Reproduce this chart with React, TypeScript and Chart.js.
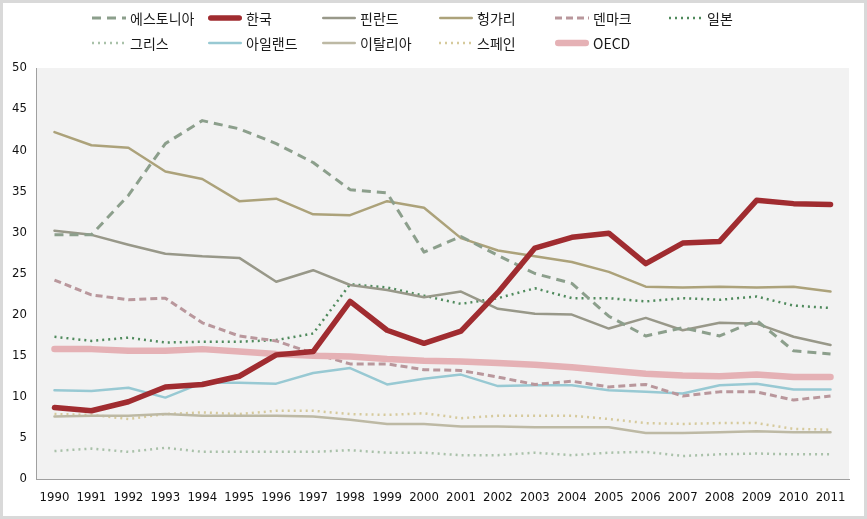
import React, { useEffect, useRef } from "react";
import { Chart, registerables } from "chart.js";

Chart.register(...registerables);

const years = ["1990","1991","1992","1993","1994","1995","1996","1997","1998","1999","2000","2001","2002","2003","2004","2005","2006","2007","2008","2009","2010","2011"];

const estonia = [29.7, 29.7, 34.5, 40.8, 43.6, 42.6, 40.8, 38.5, 35.2, 34.8, 27.6, 29.5, 27.2, 25.0, 23.8, 19.8, 17.4, 18.4, 17.4, 19.3, 15.6, 15.2];
const korea = [8.7, 8.3, 9.4, 11.2, 11.5, 12.5, 15.1, 15.5, 21.6, 18.1, 16.5, 18.0, 22.7, 28.1, 29.4, 29.9, 26.2, 28.7, 28.9, 33.9, 33.5, 33.4];
const finland = [30.2, 29.7, 28.5, 27.4, 27.1, 26.9, 24.0, 25.4, 23.6, 23.0, 22.1, 22.8, 20.7, 20.1, 20.0, 18.3, 19.6, 18.1, 19.0, 18.9, 17.3, 16.3];
const hungary = [42.2, 40.6, 40.3, 37.4, 36.5, 33.8, 34.1, 32.2, 32.1, 33.8, 33.0, 29.3, 27.8, 27.1, 26.4, 25.2, 23.4, 23.3, 23.4, 23.3, 23.4, 22.8];
const denmark = [24.2, 22.4, 21.8, 22.0, 19.0, 17.4, 16.8, 15.3, 14.0, 14.0, 13.3, 13.2, 12.4, 11.5, 11.9, 11.2, 11.5, 10.1, 10.6, 10.6, 9.6, 10.1];
const japan = [17.3, 16.8, 17.2, 16.6, 16.7, 16.7, 16.9, 17.7, 23.7, 23.3, 22.3, 21.3, 22.0, 23.2, 22.0, 22.0, 21.6, 22.0, 21.8, 22.2, 21.1, 20.8];
const greece = [3.4, 3.7, 3.3, 3.8, 3.3, 3.3, 3.3, 3.3, 3.5, 3.2, 3.2, 2.9, 2.9, 3.2, 2.9, 3.2, 3.3, 2.8, 3.0, 3.1, 3.0, 3.0];
const ireland = [10.8, 10.7, 11.1, 9.9, 11.7, 11.7, 11.6, 12.9, 13.5, 11.5, 12.2, 12.7, 11.3, 11.4, 11.4, 10.8, 10.6, 10.4, 11.4, 11.6, 10.9, 10.9];
const italy = [7.6, 7.7, 7.7, 7.9, 7.7, 7.7, 7.7, 7.6, 7.2, 6.7, 6.7, 6.4, 6.4, 6.3, 6.3, 6.3, 5.6, 5.6, 5.7, 5.8, 5.7, 5.7];
const spain = [7.9, 7.8, 7.3, 7.9, 8.1, 7.9, 8.3, 8.3, 7.9, 7.8, 8.0, 7.4, 7.7, 7.7, 7.7, 7.3, 6.8, 6.7, 6.8, 6.8, 6.1, 6.0];
const oecd = [15.8, 15.8, 15.6, 15.6, 15.8, 15.5, 15.2, 15.0, 14.9, 14.6, 14.4, 14.3, 14.1, 13.9, 13.6, 13.2, 12.8, 12.6, 12.5, 12.7, 12.4, 12.4];

const seriesNames = ["에스토니아", "한국", "핀란드", "헝가리", "덴마크", "일본", "그리스", "아일랜드", "이탈리아", "스페인", "OECD"];

const yTicks = [0, 5, 10, 15, 20, 25, 30, 35, 40, 45, 50];

type Style = { color: string; width: number; dash: number[]; cap: CanvasLineCap; order: number };

const styles: Style[] = [
  { color: "#8c9f8c", width: 3, dash: [9, 6], cap: "butt", order: 2 },
  { color: "#a02c30", width: 5.5, dash: [], cap: "round", order: 0 },
  { color: "#989889", width: 2.5, dash: [], cap: "round", order: 2 },
  { color: "#aca27a", width: 2.5, dash: [], cap: "round", order: 2 },
  { color: "#b9979c", width: 3, dash: [7, 4], cap: "butt", order: 2 },
  { color: "#4f8a5c", width: 2.5, dash: [2, 4], cap: "butt", order: 2 },
  { color: "#a9c1a9", width: 2.5, dash: [2, 4], cap: "butt", order: 2 },
  { color: "#98c9d3", width: 2.5, dash: [], cap: "round", order: 2 },
  { color: "#bdb9a4", width: 2.5, dash: [], cap: "round", order: 2 },
  { color: "#d6ca9c", width: 2.5, dash: [2, 4], cap: "butt", order: 2 },
  { color: "#e5b1b5", width: 6.5, dash: [], cap: "round", order: 1 },
];

const seriesData = [estonia, korea, finland, hungary, denmark, japan, greece, ireland, italy, spain, oecd];

// legend layout (canvas coords; canvas is offset 3px by frame)
const legendCols = [89, 205, 319, 436, 552, 666];
const legendRows = [15, 40];

const tickFont = '"Liberation Sans Narrow", "DejaVu Sans Condensed", "Liberation Sans", sans-serif';

const bgPlugin = {
  id: "plotBg",
  beforeDraw(chart: any) {
    const { ctx, chartArea } = chart;
    ctx.save();
    ctx.fillStyle = "#f2f2f2";
    ctx.fillRect(chartArea.left, chartArea.top, chartArea.right - chartArea.left, chartArea.bottom - chartArea.top);
    ctx.restore();
  },
};

const legendPlugin = {
  id: "customLegend",
  afterDraw(chart: any) {
    const ctx = chart.ctx as CanvasRenderingContext2D;
    ctx.save();
    seriesNames.forEach((name, i) => {
      const row = i < 6 ? 0 : 1;
      const col = i < 6 ? i : i - 6;
      const x = legendCols[col];
      const y = legendRows[row];
      const s = styles[i];
      ctx.strokeStyle = s.color;
      ctx.lineWidth = s.width;
      ctx.lineCap = s.cap;
      ctx.setLineDash(s.dash);
      ctx.beginPath();
      const inset = s.cap === "round" ? s.width / 2 : 0;
      ctx.moveTo(x + inset, y);
      ctx.lineTo(x + 34 - inset, y);
      ctx.stroke();
      ctx.setLineDash([]);
      ctx.fillStyle = "#1a1a1a";
      ctx.font = '14px "Noto Sans CJK KR"';
      ctx.textBaseline = "middle";
      ctx.textAlign = "left";
      ctx.fillText(name, x + 38, y + 1);
    });
    ctx.restore();
  },
};

export default function App() {
  const canvasRef = useRef<HTMLCanvasElement | null>(null);

  useEffect(() => {
    if (!canvasRef.current) return;
    const chart = new Chart(canvasRef.current, {
      type: "line",
      data: {
        labels: years,
        datasets: seriesNames.map((name, i) => ({
          label: name,
          data: seriesData[i],
          borderColor: styles[i].color,
          backgroundColor: styles[i].color,
          borderWidth: styles[i].width,
          borderDash: styles[i].dash,
          borderCapStyle: styles[i].cap,
          borderJoinStyle: "round",
          pointRadius: 0,
          pointHoverRadius: 0,
          tension: 0,
          fill: false,
          order: styles[i].order,
        })),
      },
      options: {
        animation: false,
        responsive: false,
        maintainAspectRatio: false,
        layout: { padding: { top: 65, right: 15, left: 0, bottom: 0 } },
        plugins: {
          legend: { display: false },
          tooltip: { enabled: false },
          title: { display: false },
        },
        scales: {
          x: {
            type: "category",
            offset: true,
            grid: { display: false, drawTicks: false },
            border: { display: true, color: "#a0a0a0", width: 1 },
            ticks: {
              color: "#111",
              font: { family: tickFont, size: 13 },
              padding: 11,
              maxRotation: 0,
              autoSkip: false,
            },
            afterFit(scale: any) {
              scale.height = 37;
            },
          },
          y: {
            type: "linear",
            min: 0,
            max: 50,
            afterBuildTicks(scale: any) {
              scale.ticks = yTicks.map((v) => ({ value: v }));
            },
            grid: { display: false, drawTicks: false },
            border: { display: true, color: "#a0a0a0", width: 1 },
            ticks: {
              color: "#111",
              font: { family: tickFont, size: 13 },
              padding: 9,
            },
            afterFit(scale: any) {
              scale.width = 33;
            },
          },
        },
      },
      plugins: [bgPlugin, legendPlugin],
    });
    return () => chart.destroy();
  }, []);

  return (
    <div>
      <style>{`body{margin:0;}`}</style>
      <div
        style={{
          width: 867,
          height: 519,
          boxSizing: "border-box",
          border: "3px solid #d9d9d9",
          background: "#fff",
        }}
      >
        <canvas ref={canvasRef} width={861} height={513} style={{ display: "block", width: 861, height: 513 }} />
      </div>
    </div>
  );
}
